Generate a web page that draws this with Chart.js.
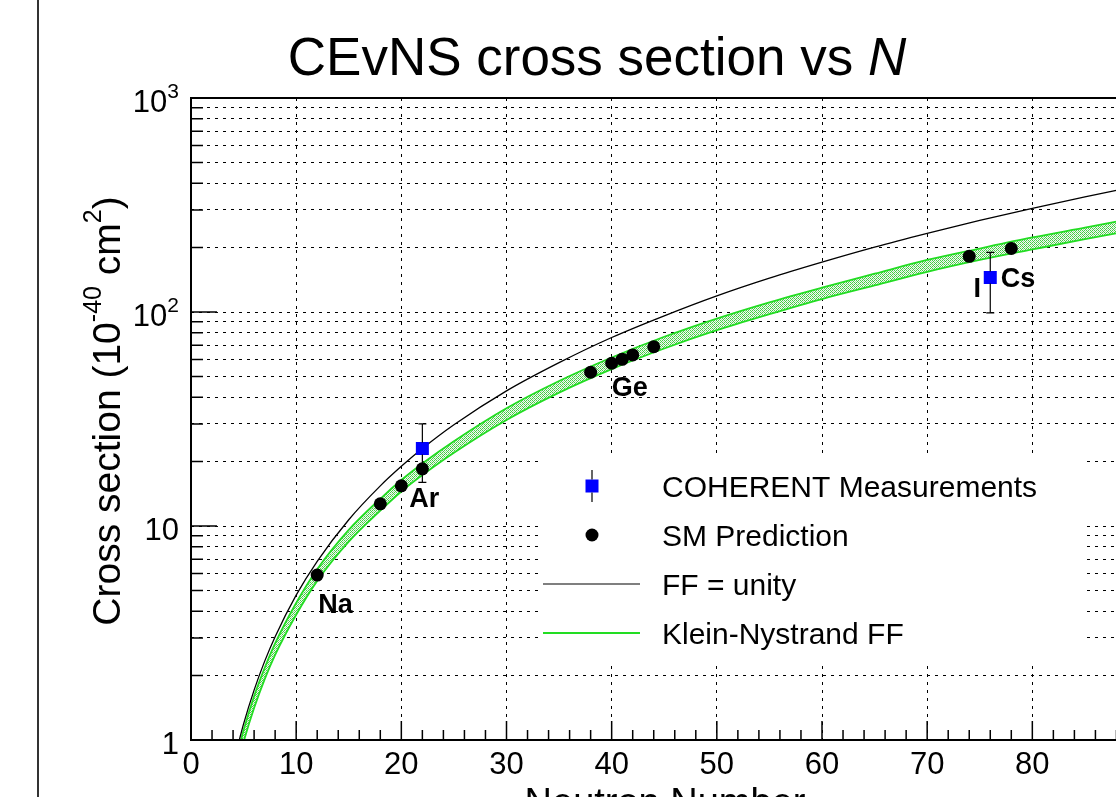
<!DOCTYPE html>
<html>
<head>
<meta charset="utf-8">
<title>CEvNS cross section vs N</title>
<script src="https://cdn.jsdelivr.net/npm/chart.js@4.4.1/dist/chart.umd.min.js"></script>
<style>
  html, body { margin: 0; padding: 0; background: #fff; overflow: hidden; }
  #wrap { position: relative; width: 1180px; height: 797px; }
</style>
</head>
<body>
<div id="wrap"><canvas id="xsec" width="1180" height="797"></canvas></div>
<script>
// theory curves, sampled in neutron number (cross sections in 1e-40 cm^2)
const curveN = [4.5, 5, 6, 7, 8, 10, 12, 15, 18, 20, 22, 25, 30, 35, 40, 45, 50, 55, 60, 65, 70, 75, 80, 85, 90];
const ffUnity = [0.96, 1.19, 1.71, 2.33, 3.04, 4.75, 6.84, 10.7, 15.4, 19.0, 23.0, 29.7, 42.8, 58, 76, 96, 119, 144, 171, 201, 233, 268, 305, 345, 388];
const knUpper = [0.89, 1.11, 1.6, 2.17, 2.83, 4.37, 6.28, 9.59, 13.4, 16.4, 19.6, 24.9, 35.5, 47.6, 61.3, 76.6, 93.2, 111, 130, 151, 175, 198, 223, 248, 276];
const knLower = [0.79, 0.98, 1.41, 1.92, 2.5, 3.85, 5.54, 8.45, 11.8, 14.5, 17.3, 22.0, 31.3, 42.0, 54.1, 67.5, 82.2, 97.7, 115, 133, 154, 175, 196, 219, 243];

// SM prediction for individual isotopes
const smN = [12, 18, 20, 22, 38, 40, 41, 42, 44, 74, 78];
const smXsec = [5.9, 12.7, 15.4, 18.5, 52.3, 57.6, 60.1, 63.0, 68.8, 182, 198];

// COHERENT results (Ar, CsI) with asymmetric errors
const cohN = [22, 76];
const cohXsec = [23, 145];
const cohLow = [16, 99];
const cohHigh = [30, 190];

const xLabels = [0, 10, 20, 30, 40, 50, 60, 70, 80];
const yDecades = [1, 10, 100, 1000];

const tags = [
  { text: "Na", n: 12.1, s: 3.92 },
  { text: "Ar", n: 20.75, s: 12.3 },
  { text: "Ge", n: 40.0, s: 40.5 },
  { text: "I", n: 74.4, s: 118 },
  { text: "Cs", n: 77.0, s: 131 },
];

const legendLabels = ["COHERENT Measurements", "SM Prediction", "FF = unity", "Klein-Nystrand FF"];

const FONT = "'Liberation Sans', Arial, Helvetica, sans-serif";
const GREEN = "#22dd22";

const pts = (xs, ys) => xs.map((x, i) => ({ x: x, y: ys[i] }));

// stippled fill for the form factor uncertainty band
function bandPattern(ctx) {
  const tile = document.createElement("canvas");
  tile.width = 4;
  tile.height = 4;
  const t = tile.getContext("2d");
  t.fillStyle = "#f2faf2";
  t.fillRect(0, 0, 4, 4);
  t.fillStyle = "#44cc44";
  [[0, 0], [2, 0], [1, 1], [0, 2], [2, 2], [3, 3]].forEach(([x, y]) => t.fillRect(x, y, 1, 1));
  t.fillStyle = "#a8dca8";
  [[3, 1], [1, 3]].forEach(([x, y]) => t.fillRect(x, y, 1, 1));
  return ctx.createPattern(tile, "repeat");
}

// text with a raised exponent part, e.g. 10^3
function drawPieces(ctx, pieces, x, y, align) {
  let total = 0;
  pieces.forEach((p) => {
    ctx.font = p.font;
    p.w = ctx.measureText(p.text).width;
    total += p.w;
  });
  let cx = align === "right" ? x - total : align === "center" ? x - total / 2 : x;
  pieces.forEach((p) => {
    ctx.font = p.font;
    ctx.fillText(p.text, cx, y - (p.rise || 0));
    cx += p.w;
  });
}

const decorations = {
  id: "decorations",
  afterDatasetsDraw(chart) {
    const { ctx, chartArea: a, scales } = chart;
    const xs = scales.x, ys = scales.y;
    ctx.save();
    ctx.fillStyle = "#000";
    ctx.strokeStyle = "#000";

    // error bars on the measurements
    const meta = chart.getDatasetMeta(0);
    ctx.lineWidth = 1.2;
    meta.data.forEach((el, i) => {
      const px = el.x;
      const top = ys.getPixelForValue(cohHigh[i]);
      const bot = ys.getPixelForValue(cohLow[i]);
      ctx.beginPath();
      ctx.moveTo(px, top); ctx.lineTo(px, el.y - 6);
      ctx.moveTo(px, el.y + 6); ctx.lineTo(px, bot);
      ctx.moveTo(px - 4, top); ctx.lineTo(px + 4, top);
      ctx.moveTo(px - 4, bot); ctx.lineTo(px + 4, bot);
      ctx.stroke();
    });

    // legend box (no border, hides the grid behind it)
    ctx.fillStyle = "#fff";
    ctx.fillRect(538, 458, 544, 204);
    ctx.fillStyle = "#000";

    // frame
    ctx.lineWidth = 2;
    ctx.strokeRect(a.left, a.top, a.right - a.left, a.bottom - a.top);

    // ticks drawn inside the frame
    ctx.lineWidth = 1.5;
    ctx.beginPath();
    for (let n = 0; n <= 90; n += 2) {
      const px = xs.getPixelForValue(n);
      const len = n % 10 === 0 ? 19 : 10;
      ctx.moveTo(px, a.bottom); ctx.lineTo(px, a.bottom - len);
    }
    for (let d = 1; d < 1000; d *= 10) {
      for (let m = 1; m <= 10; m++) {
        const py = ys.getPixelForValue(d * m);
        const len = m === 1 || m === 10 ? 26 : 12;
        ctx.moveTo(a.left, py); ctx.lineTo(a.left + len, py);
      }
    }
    ctx.stroke();

    // x tick labels
    ctx.textBaseline = "alphabetic";
    ctx.textAlign = "center";
    ctx.font = "31px " + FONT;
    xLabels.forEach((v) => {
      ctx.fillText(String(v), xs.getPixelForValue(v), a.bottom + 34);
    });

    // y tick labels
    ctx.textAlign = "left";
    yDecades.forEach((v) => {
      const py = ys.getPixelForValue(v) + 14;
      const exp = Math.round(Math.log10(v));
      const pieces = exp === 0 ? [{ text: "1", font: "31px " + FONT }]
        : exp === 1 ? [{ text: "10", font: "31px " + FONT }]
        : [{ text: "10", font: "31px " + FONT }, { text: String(exp), font: "21px " + FONT, rise: 14 }];
      drawPieces(ctx, pieces, 179, py, "right");
    });

    // isotope tags
    ctx.font = "bold 27px " + FONT;
    tags.forEach((t) => {
      ctx.fillText(t.text, xs.getPixelForValue(t.n), ys.getPixelForValue(t.s));
    });

    // legend entries
    const lx = 592, ly = [486, 535, 584, 633];
    ctx.font = "30px " + FONT;
    legendLabels.forEach((label, i) => {
      ctx.fillText(label, 662, ly[i] + 11);
    });
    ctx.fillStyle = "#0000ff";
    ctx.fillRect(lx - 6.5, ly[0] - 6.5, 13, 13);
    ctx.strokeStyle = "#000";
    ctx.lineWidth = 1.2;
    ctx.beginPath();
    ctx.moveTo(lx, ly[0] - 16); ctx.lineTo(lx, ly[0] - 6.5);
    ctx.moveTo(lx, ly[0] + 6.5); ctx.lineTo(lx, ly[0] + 16);
    ctx.stroke();
    ctx.fillStyle = "#000";
    ctx.beginPath();
    ctx.arc(lx, ly[1], 6.5, 0, Math.PI * 2);
    ctx.fill();
    ctx.beginPath();
    ctx.moveTo(543, ly[2]); ctx.lineTo(640, ly[2]);
    ctx.stroke();
    ctx.strokeStyle = GREEN;
    ctx.lineWidth = 2;
    ctx.beginPath();
    ctx.moveTo(543, ly[3]); ctx.lineTo(640, ly[3]);
    ctx.stroke();

    // title
    ctx.fillStyle = "#000";
    drawPieces(ctx, [
      { text: "CEvNS cross section vs ", font: "53px " + FONT },
      { text: "N", font: "italic 53px " + FONT },
    ], 597, 75, "center");

    // axis titles
    drawPieces(ctx, [{ text: "Neutron Number", font: "38px " + FONT }], 665, 815, "center");
    ctx.save();
    ctx.translate(120, 411);
    ctx.rotate(-Math.PI / 2);
    drawPieces(ctx, [
      { text: "Cross section (10", font: "39px " + FONT },
      { text: "-40", font: "25px " + FONT, rise: 19 },
      { text: " cm", font: "39px " + FONT },
      { text: "2", font: "25px " + FONT, rise: 19 },
      { text: ")", font: "39px " + FONT },
    ], 0, 0, "center");
    ctx.restore();

    // pad edge
    ctx.strokeStyle = "#333";
    ctx.lineWidth = 2;
    ctx.beginPath();
    ctx.moveTo(38, 0); ctx.lineTo(38, 797);
    ctx.stroke();
    ctx.restore();
  },
};

const canvas = document.getElementById("xsec");
const ctx = canvas.getContext("2d");

new Chart(ctx, {
  type: "scatter",
  data: {
    datasets: [
      {
        label: "COHERENT Measurements",
        data: pts(cohN, cohXsec),
        pointStyle: "rect",
        pointRadius: 9.2,
        pointBackgroundColor: "#0000ff",
        pointBorderWidth: 0,
        showLine: false,
      },
      {
        label: "SM Prediction",
        data: pts(smN, smXsec),
        pointStyle: "circle",
        pointRadius: 6.5,
        pointBackgroundColor: "#000",
        pointBorderWidth: 0,
        showLine: false,
      },
      {
        label: "FF = unity",
        data: pts(curveN, ffUnity),
        showLine: true,
        borderColor: "#000",
        borderWidth: 1.3,
        pointRadius: 0,
        cubicInterpolationMode: "monotone",
      },
      {
        label: "Klein-Nystrand FF",
        data: pts(curveN, knUpper),
        showLine: true,
        borderColor: GREEN,
        borderWidth: 1.8,
        pointRadius: 0,
        cubicInterpolationMode: "monotone",
      },
      {
        label: "Klein-Nystrand FF (low)",
        data: pts(curveN, knLower),
        showLine: true,
        borderColor: GREEN,
        borderWidth: 1.8,
        pointRadius: 0,
        cubicInterpolationMode: "monotone",
        fill: "-1",
        backgroundColor: bandPattern(ctx),
      },
    ],
  },
  options: {
    responsive: false,
    animation: false,
    devicePixelRatio: 1,
    layout: { padding: { left: 191, top: 98, right: 1180 - 1137.5, bottom: 57 } },
    plugins: {
      legend: { display: false },
      tooltip: { enabled: false },
      title: { display: false },
    },
    scales: {
      x: {
        type: "linear",
        min: 0,
        max: 90,
        ticks: { display: false, stepSize: 10 },
        grid: { color: "#000", lineWidth: 1, drawTicks: false },
        border: { display: false, dash: [3, 5] },
        afterFit: (s) => { s.height = 0; },
      },
      y: {
        type: "logarithmic",
        min: 1,
        max: 1000,
        ticks: { display: false },
        afterBuildTicks: (s) => {
          const t = [];
          for (let d = 1; d < 1000; d *= 10) {
            for (let m = 1; m < 10; m++) t.push({ value: d * m });
          }
          t.push({ value: 1000 });
          s.ticks = t;
        },
        grid: { color: "#000", lineWidth: 1, drawTicks: false },
        border: { display: false, dash: [3, 5] },
        afterFit: (s) => { s.width = 0; },
      },
    },
  },
  plugins: [decorations],
});
</script>
</body>
</html>
